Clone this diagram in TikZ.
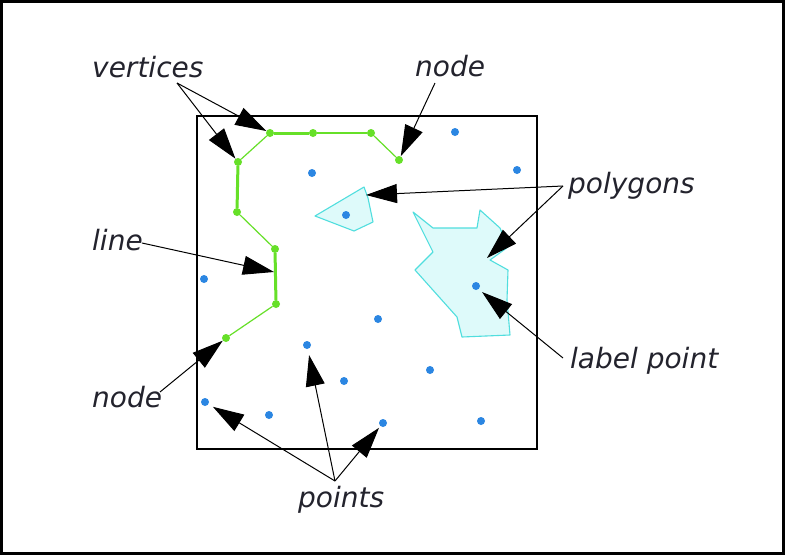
\documentclass[tikz,border=0pt]{standalone}
\usepackage{fontspec}
\newfontfamily\lblfont{DejaVu Sans}
\usetikzlibrary{arrows.meta}
\definecolor{ptblue}{RGB}{43,134,226}
\definecolor{lngreen}{RGB}{102,224,40}
\definecolor{polyfill}{RGB}{222,250,250}
\definecolor{polyline}{RGB}{80,222,222}
\definecolor{txt}{RGB}{35,35,45}
\tikzset{
 bpt/.style={circle,fill=ptblue,inner sep=0pt,minimum size=8pt},
 vx/.style={circle,fill=lngreen,inner sep=0pt,minimum size=8pt},
 lbl/.style={font=\lblfont\itshape\fontsize{28}{32}\selectfont,text=txt,inner sep=0pt,anchor=base west},
 arr/.style={draw=black,line width=1pt,-{Triangle[length=31pt,width=19pt]}},
 segthin/.style={draw=lngreen,line width=1.2pt},
 segmid/.style={draw=lngreen,line width=2pt},
 segthick/.style={draw=lngreen,line width=3pt},
 poly/.style={draw=polyline,fill=polyfill,line width=1.1pt,line join=round},
}
\begin{document}
\begin{tikzpicture}[x=1pt,y=-1pt]
\useasboundingbox (0,0) rectangle (785,555);
\fill[white] (0,0) rectangle (785,555);
\draw[line width=3pt] (1.5,1.5) rectangle (783.5,553.5);
% map frame
\draw[line width=1.4pt] (197,116) rectangle (537,449);
% polygons
\draw[poly] (315,216) -- (364,187) -- (368,198) -- (373,222) -- (354,231) -- cycle;
\draw[poly] (413,212) -- (433,228) -- (477,228) -- (480,210) -- (500,228) -- (508,247)
  -- (490,260) -- (508,270) -- (507,300) -- (510,335) -- (462,337) -- (457,317)
  -- (415,270) -- (433,252) -- cycle;
% points
\node[bpt] (p1) at (455,132) {};
\node[bpt] (p2) at (312,173) {};
\node[bpt] (p3) at (517,170) {};
\node[bpt] (p4) at (346,215) {};
\node[bpt] (p5) at (204,279) {};
\node[bpt] (p6) at (476,286) {};
\node[bpt] (p7) at (378,319) {};
\node[bpt] (p8) at (307,345) {};
\node[bpt] (p9) at (430,370) {};
\node[bpt] (p10) at (344,381) {};
\node[bpt] (p11) at (205,402) {};
\node[bpt] (p12) at (269,415) {};
\node[bpt] (p13) at (383,423) {};
\node[bpt] (p14) at (481,421) {};
% line vertices
\node[vx] (v1) at (226,338) {};
\node[vx] (v2) at (276,304) {};
\node[vx] (v3) at (275,249) {};
\node[vx] (v4) at (237,212) {};
\node[vx] (v5) at (238,162) {};
\node[vx] (v6) at (270,133) {};
\node[vx] (v7) at (313,133) {};
\node[vx] (v8) at (371,133) {};
\node[vx] (v9) at (399,160) {};
\draw[segthin] (v1) -- (v2);
\draw[segthick] (v2) -- (v3);
\draw[segthin] (v3) -- (v4);
\draw[segthick] (v4) -- (v5);
\draw[segthin] (v5) -- (v6);
\draw[segthick] (v6) -- (v7);
\draw[segmid] (v7) -- (v8);
\draw[segthin] (v8) -- (v9);
% labels
\node[lbl] (lvert) at (92,77) {vertices};
\node[lbl] (lnodet) at (415,76) {node};
\node[lbl] (lpoly) at (568,193) {polygons};
\node[lbl] (lline) at (92,250) {line};
\node[lbl] (llab) at (570,368) {label point};
\node[lbl] (lnodeb) at (92,407) {node};
\node[lbl] (lpts) at (298,507) {points};
% arrow anchors
\coordinate (svert) at (177,83);
\coordinate (snodet) at (435,83);
\coordinate (spoly) at (563,186);
\coordinate (sline) at (142,243);
\coordinate (slab) at (563,358);
\coordinate (snodeb) at (160,392);
\coordinate (spts) at (335,481);
\coordinate (tline) at (274,272);
\coordinate (tpoly1) at (366,195);
\coordinate (tpoly2) at (487,258);
\coordinate (tlab) at (482,292);
% arrows
\draw[arr] (svert) -- (v6);
\draw[arr] (svert) -- (v5);
\draw[arr] (snodet) -- (v9);
\draw[arr] (spoly) -- (tpoly1);
\draw[arr] (spoly) -- (tpoly2);
\draw[arr] (sline) -- (tline);
\draw[arr] (slab) -- (tlab);
\draw[arr] (snodeb) -- (v1);
\draw[arr,shorten >=5pt] (spts) -- (p11);
\draw[arr,shorten >=6pt] (spts) -- (p8);
\draw[arr,shorten >=2pt] (spts) -- (p13);
\end{tikzpicture}
\end{document}
